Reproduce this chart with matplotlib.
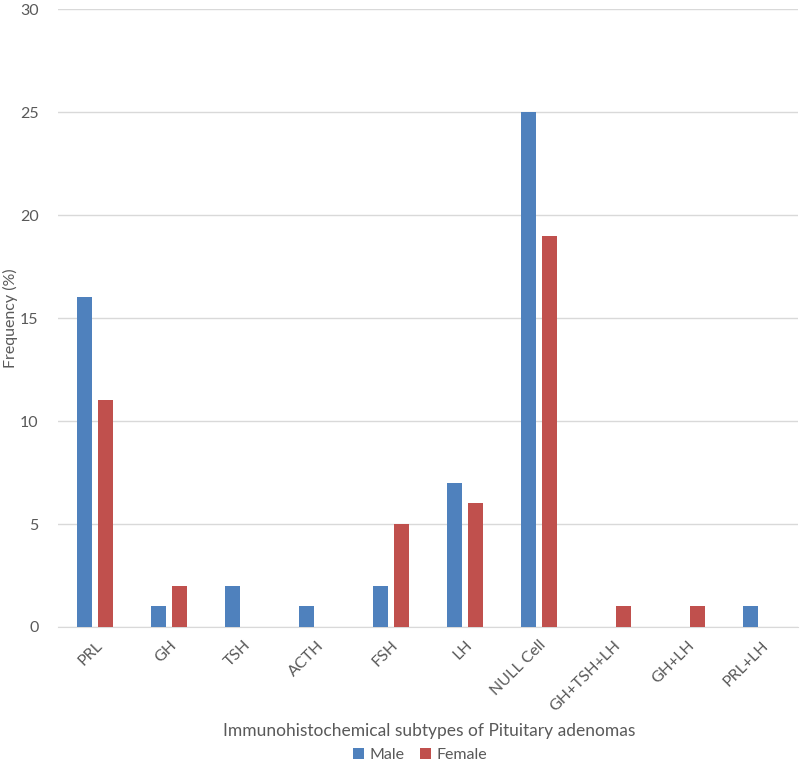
import numpy as np
import matplotlib.pyplot as plt

plt.rcParams['font.family'] = ['Lato', 'DejaVu Sans']

categories = ['PRL', 'GH', 'TSH', 'ACTH', 'FSH', 'LH', 'NULL Cell',
              'GH+TSH+LH', 'GH+LH', 'PRL+LH']
male = [16, 1, 2, 1, 2, 7, 25, 0, 0, 1]
female = [11, 2, 0, 0, 5, 6, 19, 1, 1, 0]

text_col = '#595959'
fig = plt.figure(figsize=(8, 7.66), dpi=100)
ax = fig.add_axes([0.0725, 0.1815, 0.925, 0.8065])

x = np.arange(len(categories))
w = 0.215
ax.bar(x - 0.142, male, w, color='#4F81BD', label='Male', zorder=3)
ax.bar(x + 0.142, female, w, color='#C0504D', label='Female', zorder=3)

ax.set_xlim(-0.5, len(categories) - 0.5)
ax.set_ylim(0, 30)
ax.set_yticks(range(0, 31, 5))
ax.yaxis.grid(True, color='#D9D9D9', linewidth=1)
ax.set_axisbelow(True)
for s in ['top', 'right', 'left']:
    ax.spines[s].set_visible(False)
ax.spines['bottom'].set_color('#D9D9D9')
ax.tick_params(axis='both', length=0, colors=text_col, labelsize=11.5)
ax.tick_params(axis='y', pad=14)
ax.tick_params(axis='x', pad=8)
ax.set_xticks(x)
ax.set_xticklabels(categories, rotation=45, ha='right', rotation_mode='anchor')

# axis titles placed in figure coords
fig.text(10 / 800, 1 - 318 / 766, 'Frequency (%)', rotation=90, color=text_col,
         fontsize=11.5, ha='center', va='center')
fig.text(429 / 800, 1 - 731 / 766, 'Immunohistochemical subtypes of Pituitary adenomas',
         color=text_col, fontsize=12.5, ha='center', va='center')

fig.legend(loc='center', bbox_to_anchor=(420 / 800, 1 - 755 / 766), ncol=2, frameon=False,
           fontsize=11.5, labelcolor=text_col, handlelength=0.7, handleheight=0.7,
           handletextpad=0.3, columnspacing=1.0)

plt.savefig('out.png', dpi=100)
